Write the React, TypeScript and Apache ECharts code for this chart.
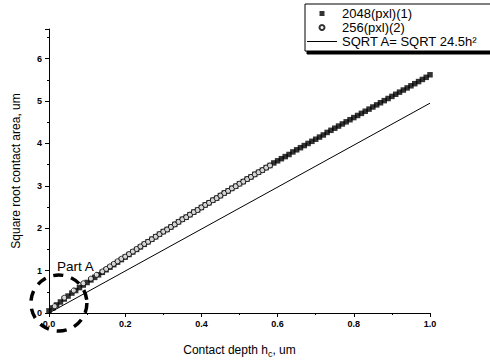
import React, { useEffect, useRef } from "react";
import * as echarts from "echarts";

const seriesNames = ["2048(pxl)(1)", "256(pxl)(2)", "SQRT A= SQRT 24.5h²"];

const squareX = [
  0, 0.01, 0.02, 0.03, 0.04, 0.05, 0.06, 0.07, 0.08, 0.09,
  0.1, 0.11, 0.12, 0.13, 0.14, 0.15, 0.16, 0.17, 0.18, 0.19,
  0.2, 0.21, 0.22, 0.23, 0.24, 0.25, 0.26, 0.27, 0.28, 0.29,
  0.3, 0.31, 0.32, 0.33, 0.34, 0.35, 0.36, 0.37, 0.38, 0.39,
  0.4, 0.41, 0.42, 0.43, 0.44, 0.45, 0.46, 0.47, 0.48, 0.49,
  0.5, 0.51, 0.52, 0.53, 0.54, 0.55, 0.56, 0.57, 0.58, 0.59,
  0.6, 0.61, 0.62, 0.63, 0.64, 0.65, 0.66, 0.67, 0.68, 0.69,
  0.7, 0.71, 0.72, 0.73, 0.74, 0.75, 0.76, 0.77, 0.78, 0.79,
  0.8, 0.81, 0.82, 0.83, 0.84, 0.85, 0.86, 0.87, 0.88, 0.89,
  0.9, 0.91, 0.92, 0.93, 0.94, 0.95, 0.96, 0.97, 0.98, 0.99, 1.0,
];
const squareY = [
  0.05, 0.12, 0.19, 0.26, 0.33, 0.4, 0.47, 0.53, 0.6, 0.66,
  0.72, 0.78, 0.84, 0.9, 0.96, 1.02, 1.08, 1.14, 1.2, 1.26,
  1.32, 1.38, 1.44, 1.5, 1.56, 1.62, 1.68, 1.74, 1.8, 1.86,
  1.92, 1.97, 2.03, 2.09, 2.15, 2.21, 2.26, 2.32, 2.38, 2.43,
  2.49, 2.55, 2.6, 2.66, 2.71, 2.77, 2.83, 2.88, 2.94, 2.99,
  3.05, 3.1, 3.16, 3.21, 3.27, 3.32, 3.37, 3.43, 3.48, 3.54,
  3.59, 3.64, 3.69, 3.74, 3.8, 3.85, 3.9, 3.95, 4.0, 4.05,
  4.1, 4.15, 4.2, 4.26, 4.31, 4.36, 4.41, 4.46, 4.51, 4.56,
  4.61, 4.66, 4.71, 4.76, 4.81, 4.86, 4.91, 4.96, 5.01, 5.06,
  5.11, 5.16, 5.21, 5.26, 5.31, 5.36, 5.41, 5.46, 5.51, 5.56, 5.62,
];

const circleX = [
  0.015, 0.04, 0.065, 0.09, 0.11, 0.125, 0.14, 0.15, 0.16, 0.17,
  0.18, 0.19, 0.2, 0.21, 0.22, 0.23, 0.24, 0.25, 0.26, 0.27,
  0.28, 0.29, 0.3, 0.31, 0.32, 0.33, 0.34, 0.35, 0.36, 0.37,
  0.38, 0.39, 0.4, 0.41, 0.42, 0.43, 0.44, 0.45, 0.46, 0.47,
  0.48, 0.49, 0.5, 0.51, 0.52, 0.53, 0.54, 0.55, 0.56, 0.57, 0.58,
];
const circleY = [
  0.16, 0.36, 0.53, 0.7, 0.81, 0.9, 0.98, 1.04, 1.1, 1.16,
  1.22, 1.28, 1.33, 1.39, 1.45, 1.51, 1.57, 1.63, 1.68, 1.74,
  1.8, 1.86, 1.92, 1.97, 2.03, 2.09, 2.15, 2.21, 2.26, 2.32,
  2.38, 2.43, 2.49, 2.55, 2.6, 2.66, 2.71, 2.77, 2.83, 2.88,
  2.94, 2.99, 3.05, 3.1, 3.16, 3.21, 3.27, 3.32, 3.37, 3.43, 3.48,
];

const fitX = [0, 1.0];
const fitY = [0, 4.95];

const partACenter = [0.026, 0.235];
const partALabelAt = [0.021, 1.1];
const partALabel = "Part A";

const FONT = "'Liberation Sans', Arial, Helvetica, sans-serif";

export default function App() {
  const ref = useRef<HTMLDivElement>(null);
  useEffect(() => {
    const chart = echarts.init(ref.current!, null, { renderer: "svg" });
    chart.setOption({
      animation: false,
      backgroundColor: "#fff",
      grid: { left: 49, right: 80, top: 29, bottom: 48, containLabel: false },
      xAxis: {
        type: "value",
        min: 0,
        max: 1.0,
        interval: 0.2,
        name: "Contact depth h{sub|c}, um",
        nameLocation: "middle",
        nameGap: 29,
        nameTextStyle: {
          fontFamily: FONT,
          fontSize: 12,
          color: "#000",
          rich: {
            sub: { fontFamily: FONT, fontSize: 9, color: "#000", verticalAlign: "bottom", padding: [7, 0, 0, 0] },
          },
        },
        axisLine: { show: true, lineStyle: { color: "#000", width: 1 } },
        axisTick: { show: true, inside: false, length: 4, lineStyle: { color: "#000" } },
        minorTick: { show: true, splitNumber: 2, length: 2, lineStyle: { color: "#000" } },
        splitLine: { show: false },
        axisLabel: {
          fontFamily: FONT,
          fontSize: 9,
          fontWeight: "bold",
          color: "#000",
          margin: 6,
          formatter: (v: number) => v.toFixed(1),
        },
      },
      yAxis: {
        type: "value",
        min: 0,
        max: 6.7,
        interval: 1,
        name: "Square root contact area, um",
        nameLocation: "middle",
        nameGap: 27,
        nameTextStyle: { fontFamily: FONT, fontSize: 12, color: "#000" },
        axisLine: { show: true, lineStyle: { color: "#000", width: 1 } },
        axisTick: { show: true, inside: false, length: 4, lineStyle: { color: "#000" } },
        minorTick: { show: true, splitNumber: 2, length: 2, lineStyle: { color: "#000" } },
        splitLine: { show: false },
        axisLabel: {
          fontFamily: FONT,
          fontSize: 9,
          fontWeight: "bold",
          color: "#000",
          margin: 7,
          showMaxLabel: false,
        },
      },
      legend: {
        orient: "vertical",
        left: 305,
        top: 4,
        itemWidth: 30,
        itemHeight: 5,
        itemGap: 1,
        padding: [3, 16, 3, 2],
        borderColor: "#000",
        borderWidth: 1,
        backgroundColor: "#fff",
        shadowColor: "#000",
        shadowOffsetX: 2,
        shadowOffsetY: 3,
        shadowBlur: 0,
        textStyle: { fontFamily: FONT, fontSize: 13, lineHeight: 13, color: "#000" },
        data: [
          { name: seriesNames[0], icon: "path://M0,0H10V10H0Z" },
          { name: seriesNames[1] },
          { name: seriesNames[2], icon: "path://M0,0H30V1H0Z" },
        ],
      },
      series: [
        {
          name: seriesNames[0],
          type: "scatter",
          symbol: "rect",
          symbolSize: 5.5,
          itemStyle: { color: "#000" },
          data: squareX.map((x, i) => [x, squareY[i]]),
          z: 2,
        },
        {
          name: seriesNames[1],
          type: "scatter",
          symbol: "circle",
          symbolSize: 5,
          itemStyle: { color: "#fff", borderColor: "#000", borderWidth: 1 },
          data: circleX.map((x, i) => [x, circleY[i]]),
          z: 3,
        },
        {
          name: seriesNames[2],
          type: "line",
          symbol: "none",
          lineStyle: { color: "#000", width: 1 },
          itemStyle: { color: "#000" },
          data: fitX.map((x, i) => [x, fitY[i]]),
          z: 1,
        },
      ],
    });
    const c = chart.convertToPixel({ gridIndex: 0 }, partACenter) as number[];
    const t = chart.convertToPixel({ gridIndex: 0 }, partALabelAt) as number[];
    chart.setOption({
      graphic: [
        {
          type: "circle",
          shape: { cx: c[0], cy: c[1], r: 28 },
          style: { fill: "none", stroke: "#000", lineWidth: 3.5, lineDash: [10, 8] },
          z: 10,
        },
        {
          type: "text",
          x: t[0],
          y: t[1],
          style: {
            text: partALabel,
            fontFamily: FONT,
            fontSize: 13.5,
            fill: "#000",
            textVerticalAlign: "middle",
          },
          z: 10,
        },
      ],
    });
    return () => chart.dispose();
  }, []);
  return (
    <div
      ref={ref}
      style={{ position: "fixed", left: 0, top: 0, width: 510, height: 363, background: "#fff" }}
    />
  );
}
